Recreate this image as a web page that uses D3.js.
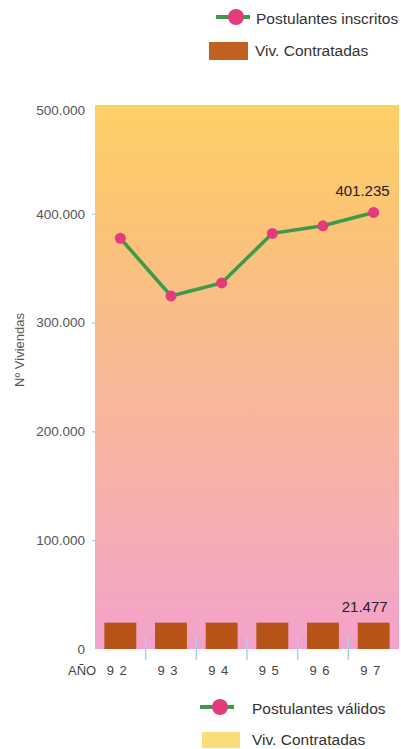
<!DOCTYPE html>
<html><head><meta charset="utf-8">
<script src="https://cdn.jsdelivr.net/npm/d3@7"></script>
<style>html,body{margin:0;padding:0;background:#fff;}svg{display:block;font-family:"Liberation Sans",Arial,sans-serif;}</style>
</head><body><svg id="c" width="401" height="749"></svg>
<script>
const years = ["92","93","94","95","96","97"];
const yearLabels = ["9 2","9 3","9 4","9 5","9 6","9 7"];
const postulantes = [377500, 324500, 336500, 382000, 389000, 401235];
const contratadas = [21477, 21477, 21477, 21477, 21477, 21477];
const yTicks = [0, 100000, 200000, 300000, 400000, 500000];
const yTickLabels = ["0", "100.000", "200.000", "300.000", "400.000", "500.000"];
const lastLineLabel = "401.235";
const lastBarLabel = "21.477";

const svg = d3.select("#c");
const pL = 95, pR = 399, pT = 105, pB = 649;
const x = d3.scaleBand().domain(years).range([pL, pR]).paddingInner(0.37).paddingOuter(0.185);
const y = d3.scaleLinear().domain([0, 500000]).range([pB, pT]);

const defs = svg.append("defs");
const g = defs.append("linearGradient").attr("id","bg").attr("x1",0).attr("y1",0).attr("x2",0).attr("y2",1);
[[0,"#fdd166"],[0.2,"#fcc474"],[0.42,"#f9bb8e"],[0.62,"#f8b4a2"],[0.8,"#f6acb6"],[1,"#f3a2cc"]].forEach(s=>g.append("stop").attr("offset",s[0]).attr("stop-color",s[1]));

svg.append("rect").attr("x",pL).attr("y",y(500000)).attr("width",pR-pL).attr("height",y(0)-y(500000)).attr("fill","url(#bg)");

// y axis ticks & labels
const yAxis = d3.axisLeft(y).tickValues(yTicks).tickSize(3).tickPadding(7).tickFormat((d,i)=>yTickLabels[i]);
const ya = svg.append("g").attr("transform",`translate(${pL},0)`).call(yAxis);
ya.select(".domain").remove();
ya.selectAll(".tick line").attr("stroke","#8fc6e0").attr("stroke-width",1);
ya.selectAll(".tick text").attr("fill","#555").style("font-size","13.5px").style("font-family","Liberation Sans, Arial, sans-serif");
ya.selectAll(".tick").filter(d=>d===0||d===500000).select("line").remove();
ya.selectAll(".tick").filter(d=>d===500000).select("text").attr("dy","0.72em");

svg.append("text").attr("transform","translate(24,350) rotate(-90)").attr("text-anchor","middle")
  .attr("fill","#555").style("font-size","13px").text("Nº Viviendas");

// bars
svg.selectAll(".bar").data(contratadas).join("rect").attr("class","bar")
  .attr("x",(d,i)=>x(years[i])).attr("width",x.bandwidth())
  .attr("y",d=>y(d)-3).attr("height",d=>y(0)-y(d)+3).attr("fill","#b8531a");

// x separators
const step = x.step();
svg.selectAll(".sep").data(years.slice(1)).join("line").attr("class","sep")
  .attr("x1",d=>x(d)-step*0.185).attr("x2",d=>x(d)-step*0.185)
  .attr("y1",pB-12).attr("y2",pB+11).attr("stroke","#a6d4ea").attr("stroke-width",1.5);

// x labels
svg.append("text").attr("x",68).attr("y",675).attr("fill","#444").style("font-size","13px").text("AÑO");
svg.selectAll(".xl").data(yearLabels).join("text").attr("class","xl")
  .attr("x",(d,i)=>x(years[i])+x.bandwidth()/2-3).attr("y",675).attr("text-anchor","middle")
  .attr("fill","#444").style("font-size","13px").style("letter-spacing","1px").text(d=>d);

// line
const line = d3.line().x((d,i)=>x(years[i])+x.bandwidth()/2).y(d=>y(d));
svg.append("path").datum(postulantes).attr("d",line).attr("fill","none").attr("stroke","#3c9a48").attr("stroke-width",3.5);
svg.selectAll(".pt").data(postulantes).join("circle").attr("class","pt")
  .attr("cx",(d,i)=>x(years[i])+x.bandwidth()/2).attr("cy",d=>y(d)).attr("r",5.5).attr("fill","#e23c7c");

// value labels
svg.append("text").attr("x",x("97")+x.bandwidth()).attr("y",y(postulantes[5])-16).attr("text-anchor","end")
  .attr("fill","#222").style("font-size","15px").text(lastLineLabel);
svg.append("text").attr("x",x("97")+x.bandwidth()-2).attr("y",y(contratadas[5])-14).attr("text-anchor","end")
  .attr("fill","#222").style("font-size","15px").text(lastBarLabel);

// legends
function lineLegend(cx, cy, tx, label){
  svg.append("line").attr("x1",cx-20).attr("x2",cx+14).attr("y1",cy).attr("y2",cy).attr("stroke","#3c9a48").attr("stroke-width",4);
  svg.append("circle").attr("cx",cx).attr("cy",cy).attr("r",8).attr("fill","#e23c7c");
  svg.append("text").attr("x",tx).attr("y",cy+2).attr("dy","0.35em").attr("fill","#333").style("font-size","15.5px").text(label);
}
lineLegend(236, 17, 256, "Postulantes inscritos");
svg.append("rect").attr("x",209).attr("y",42).attr("width",39).attr("height",18).attr("fill","#c0611f");
svg.append("text").attr("x",255).attr("y",51).attr("dy","0.35em").attr("fill","#333").style("font-size","15.5px").text("Viv. Contratadas");

lineLegend(220, 707, 252, "Postulantes válidos");
svg.append("rect").attr("x",202).attr("y",732).attr("width",38).attr("height",16).attr("fill","#fbdc78");
svg.append("text").attr("x",252).attr("y",740).attr("dy","0.35em").attr("fill","#333").style("font-size","15.5px").text("Viv. Contratadas");
</script></body></html>
